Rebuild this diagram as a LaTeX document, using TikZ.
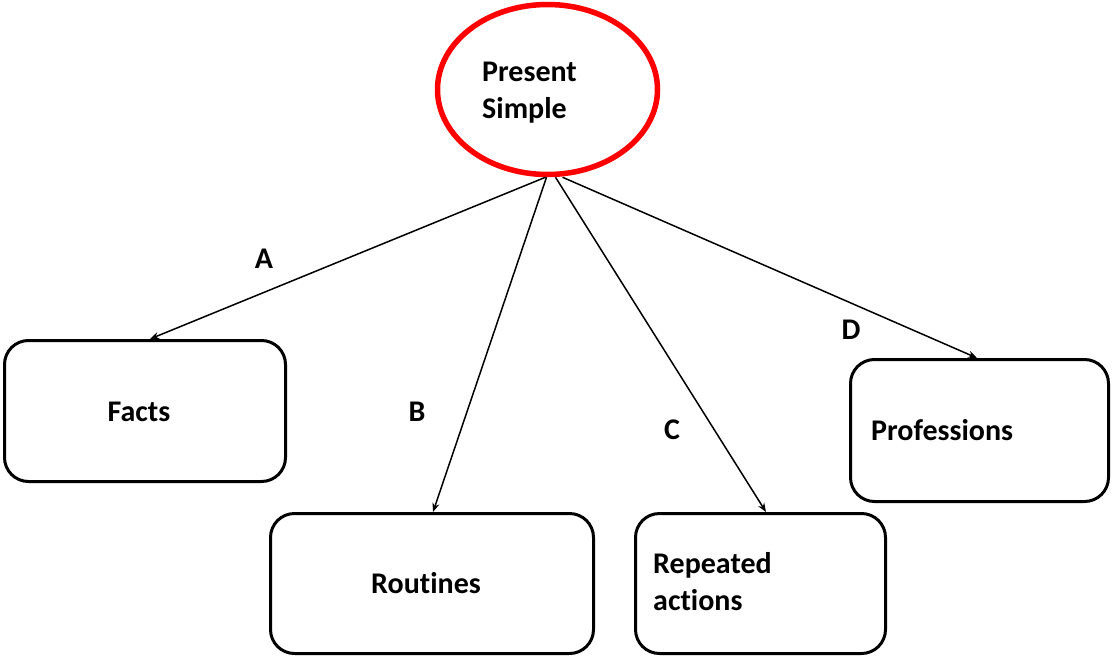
\documentclass[tikz,border=0pt]{standalone}
\usepackage{fontspec}
\setmainfont{Carlito}[Ligatures=NoCommon]
\usetikzlibrary{arrows.meta,shapes.geometric}
\begin{document}
\begin{tikzpicture}[x=1pt,y=-1pt,
  font=\fontsize{30}{36.5}\selectfont\bfseries,
  topic/.style={draw=red, line width=5.5pt, ellipse, minimum width=220pt, minimum height=170pt, inner sep=0pt},
  usebox/.style={draw=black, line width=3pt, rounded corners=24pt, inner sep=0pt},
  lbl/.style={inner sep=0pt},
  link/.style={line width=1.5pt, -{Stealth[length=9pt,width=7pt]}}
]
\useasboundingbox[fill=white] (0,0) rectangle (1113,661);

% central topic (anchored on the baseline of the last line)
\node[topic] (ps) at (547.5,89.5) {};
\node[lbl, align=left, anchor=base west] (pstext) at (482,118) {Present\\Simple};

% the four uses
\node[usebox, minimum width=281pt, minimum height=141pt] (facts) at (145,411) {};
\node[lbl, anchor=base] (factstext) at (139,421) {Facts};

\node[usebox, minimum width=323pt, minimum height=140pt] (routines) at (432,583.5) {};
\node[lbl, anchor=base] (routinestext) at (426,593) {Routines};

\node[usebox, minimum width=250pt, minimum height=140pt] (repeated) at (760.5,583.5) {};
\node[lbl, align=left, anchor=base west] (repeatedtext) at (653,610) {Repeated\\actions};

\node[usebox, minimum width=258pt, minimum height=142pt] (prof) at (979.5,430.5) {};
\node[lbl, anchor=base west] (proftext) at (871,440) {Professions};

% connectors
\draw[link] ([xshift=-2pt]ps.south) -- ([xshift=5pt]facts.north);
\draw[link] ([xshift=-1pt]ps.south) -- ([xshift=1pt]routines.north);
\draw[link] ([xshift=8pt]ps.south) -- ([xshift=5.5pt]repeated.north);
\draw[link] ([xshift=15pt]ps.south) -- ([xshift=-2.5pt]prof.north);

% connector letters
\node[lbl] (la) at (264,259) {A};
\node[lbl] (lb) at (417,412) {B};
\node[lbl] (lc) at (672,430) {C};
\node[lbl] (ld) at (851,330) {D};
\end{tikzpicture}
\end{document}
